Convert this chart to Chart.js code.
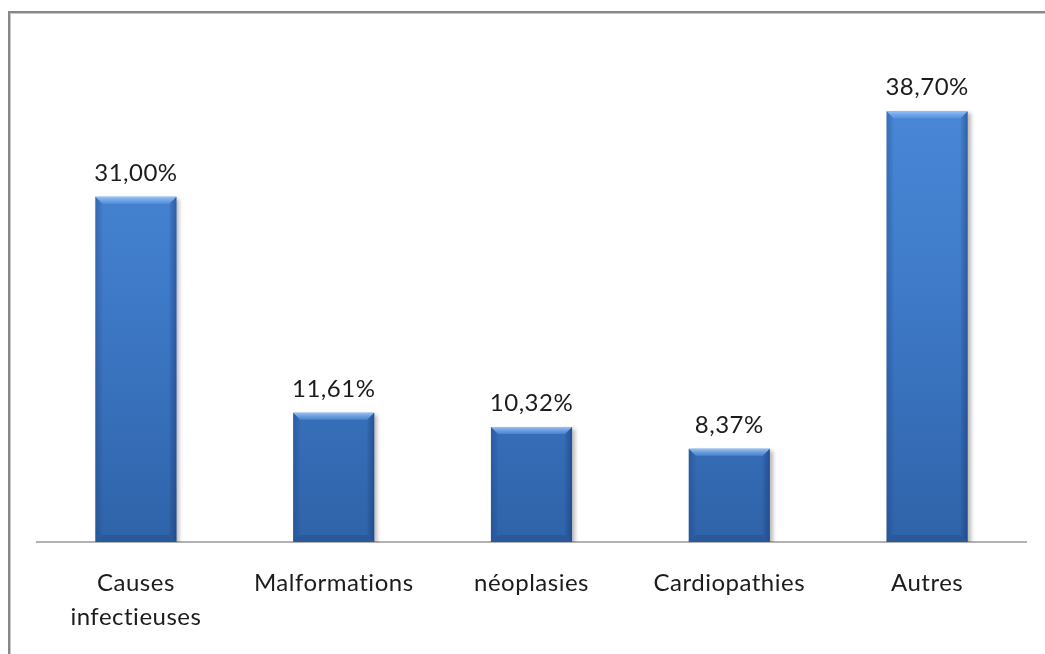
<!DOCTYPE html>
<html>
<head>
<meta charset="utf-8">
<script src="https://cdn.jsdelivr.net/npm/chart.js@4"></script>
<style>
  html, body { margin: 0; padding: 0; background: #ffffff; }
  #wrap { position: relative; width: 1045px; height: 654px; overflow: hidden; }
  #frame { position: absolute; left: 8px; top: 11px; width: 1100px; height: 700px;
           border-left: 2px solid #888888; border-top: 2px solid #888888;
           box-shadow: inset 1px 1px 0 #c8c8c8; }
  canvas { position: absolute; left: 0; top: 0; }
</style>
</head>
<body>
<div id="wrap">
  <div id="frame"></div>
  <canvas id="c" width="1045" height="654"></canvas>
</div>
<script>
const categories = [["Causes", "infectieuses"], "Malformations", "néoplasies", "Cardiopathies", "Autres"];
const values = [31.00, 11.61, 10.32, 8.37, 38.70];
const valueLabels = ["31,00%", "11,61%", "10,32%", "8,37%", "38,70%"];

const FONT = "Lato, 'Open Sans', 'DejaVu Sans', sans-serif";

function barGradient(ctx) {
  const chart = ctx.chart;
  const area = chart.chartArea;
  if (!area) return '#3a78c8';
  const el = ctx.element;
  const top = el && isFinite(el.y) ? el.y : area.top;
  const g = chart.ctx.createLinearGradient(0, top, 0, area.bottom);
  g.addColorStop(0, '#4d8ddc');
  g.addColorStop(0.5, '#3e7ac8');
  g.addColorStop(1, '#2f63a9');
  return g;
}

const textSpacing = {
  id: 'textSpacing',
  beforeDraw(chart) {
    try { chart.ctx.letterSpacing = '0.5px'; } catch (e) {}
  }
};

const barDecor = {
  id: 'barDecor',
  beforeDatasetsDraw(chart) {
    const ctx = chart.ctx;
    ctx.save();
    ctx.shadowColor = 'rgba(0,0,0,0.28)';
    ctx.shadowBlur = 4;
    ctx.shadowOffsetX = 3;
    ctx.shadowOffsetY = 2;
  },
  afterDatasetsDraw(chart) {
    const ctx = chart.ctx;
    ctx.restore();
    const meta = chart.getDatasetMeta(0);
    meta.data.forEach((bar, i) => {
      const x0 = bar.x - bar.width / 2, x1 = bar.x + bar.width / 2;
      const y0 = bar.y, y1 = bar.base;
      const b = 7;
      ctx.save();
      let g = ctx.createLinearGradient(0, y0, 0, y0 + b);
      g.addColorStop(0, 'rgba(160,202,252,0.9)');
      g.addColorStop(1, 'rgba(110,165,235,0.4)');
      ctx.fillStyle = g;
      ctx.beginPath();
      ctx.moveTo(x0, y0); ctx.lineTo(x1, y0); ctx.lineTo(x1 - b, y0 + b); ctx.lineTo(x0 + b, y0 + b);
      ctx.closePath(); ctx.fill();
      g = ctx.createLinearGradient(x0, 0, x0 + b, 0);
      g.addColorStop(0, 'rgba(20,50,110,0.30)');
      g.addColorStop(1, 'rgba(20,50,110,0.05)');
      ctx.fillStyle = g;
      ctx.beginPath();
      ctx.moveTo(x0, y0); ctx.lineTo(x0 + b, y0 + b); ctx.lineTo(x0 + b, y1 - b); ctx.lineTo(x0, y1);
      ctx.closePath(); ctx.fill();
      g = ctx.createLinearGradient(x1 - b, 0, x1, 0);
      g.addColorStop(0, 'rgba(15,40,95,0.08)');
      g.addColorStop(1, 'rgba(15,40,95,0.40)');
      ctx.fillStyle = g;
      ctx.beginPath();
      ctx.moveTo(x1, y0); ctx.lineTo(x1 - b, y0 + b); ctx.lineTo(x1 - b, y1 - b); ctx.lineTo(x1, y1);
      ctx.closePath(); ctx.fill();
      ctx.fillStyle = 'rgba(15,40,95,0.18)';
      ctx.beginPath();
      ctx.moveTo(x0, y1); ctx.lineTo(x0 + b, y1 - b); ctx.lineTo(x1 - b, y1 - b); ctx.lineTo(x1, y1);
      ctx.closePath(); ctx.fill();
      ctx.restore();

      ctx.save();
      ctx.font = '24px ' + FONT;
      ctx.fillStyle = '#1c1c1c';
      ctx.textAlign = 'center';
      ctx.textBaseline = 'alphabetic';
      ctx.fillText(valueLabels[i], bar.x, bar.y - 16);
      ctx.restore();
    });
  }
};

new Chart(document.getElementById('c'), {
  type: 'bar',
  data: {
    labels: categories,
    datasets: [{
      data: values,
      backgroundColor: barGradient,
      borderWidth: 0,
      categoryPercentage: 1.0,
      barPercentage: 0.41
    }]
  },
  options: {
    responsive: false,
    devicePixelRatio: 1,
    animation: false,
    layout: { padding: { left: 37, right: 19, top: 41, bottom: 0 } },
    plugins: { legend: { display: false }, tooltip: { enabled: false } },
    scales: {
      x: {
        grid: { display: false, drawTicks: false },
        border: { display: true, color: '#b2b2b2', width: 2 },
        ticks: {
          color: '#1c1c1c',
          padding: 24,
          maxRotation: 0,
          autoSkip: false,
          font: { family: FONT, size: 24, lineHeight: 34 / 24 }
        },
        afterFit(scale) { scale.height = 112; }
      },
      y: { display: false, min: 0, max: 45 }
    }
  },
  plugins: [textSpacing, barDecor]
});
</script>
</body>
</html>
